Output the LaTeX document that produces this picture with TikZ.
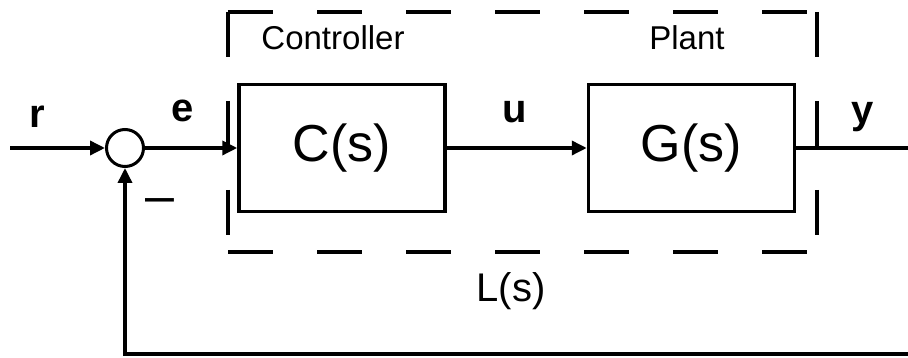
\documentclass[tikz,border=0pt]{standalone}
\usepackage{fontspec}
\setmainfont{Liberation Sans}
\usetikzlibrary{arrows.meta}

\tikzset{
    block/.style={draw, line width=3.5pt, minimum width=206pt, minimum height=127pt, inner sep=0pt},
    sumnode/.style={draw, circle, line width=3pt, minimum size=37pt, inner sep=0pt},
    sig/.style={line width=3.5pt, -{Triangle[length=15pt, width=14pt]}},
    wire/.style={line width=3.5pt},
    lbl/.style={anchor=base, inner sep=0pt, font=\bfseries\fontsize{40}{46}\selectfont},
    title/.style={anchor=base, inner sep=0pt, font=\fontsize{33}{38}\selectfont},
    framedash/.style={line width=4pt, dash pattern=on 45pt off 44pt},
}

\begin{document}
\begin{tikzpicture}[x=1pt, y=1pt]
    \useasboundingbox (0, 0) rectangle (908, 358);

    % blocks
    \node[sumnode] (S) at (125, 210) {};
    \node[block, font=\fontsize{52}{60}\selectfont] (C) at (342, 210) {C(s)};
    \node[block, font=\fontsize{52}{60}\selectfont] (G) at (691.5, 210) {G(s)};

    % loop transfer frame
    \coordinate (Ftl) at (228, 346);
    \coordinate (Ftr) at (817, 346);
    \coordinate (Fbl) at (228, 106);
    \coordinate (Fbr) at (817, 106);
    \draw[framedash] (Ftl) -- (Ftr);
    \draw[framedash] (Fbl) -- (Fbr);
    \draw[framedash] (Ftl) -- (Fbl);
    \draw[framedash] (Ftr) -- (Fbr);

    \node[title] (ctrl) at (333, 308) {Controller};
    \node[title] (plant) at (687, 308) {Plant};
    \node[anchor=base, inner sep=0pt, font=\fontsize{40}{46}\selectfont] (L) at (511, 56) {L(s)};

    % signals
    \coordinate (rin) at (10, 210);
    \coordinate (yout) at (908, 210);
    \coordinate (fb) at (908, 4);

    \draw[sig] (rin) -- (S.west);
    \draw[sig] (S.east) -- (C.west);
    \draw[sig] (C.east) -- (G.west);
    \draw[wire] (G.east) -- (G.east -| yout);
    \draw[sig] (fb) -- (fb -| S) -- (S.south);

    \node[lbl] (r) at (37, 230) {r};
    \node[lbl] (e) at (183, 236) {e};
    \node[lbl] (u) at (515, 235) {u};
    \node[lbl] (y) at (863, 234) {y};
    \node[anchor=base, inner sep=0pt, font=\fontsize{52}{60}\selectfont] (minus) at (160, 144) {–};
\end{tikzpicture}
\end{document}
